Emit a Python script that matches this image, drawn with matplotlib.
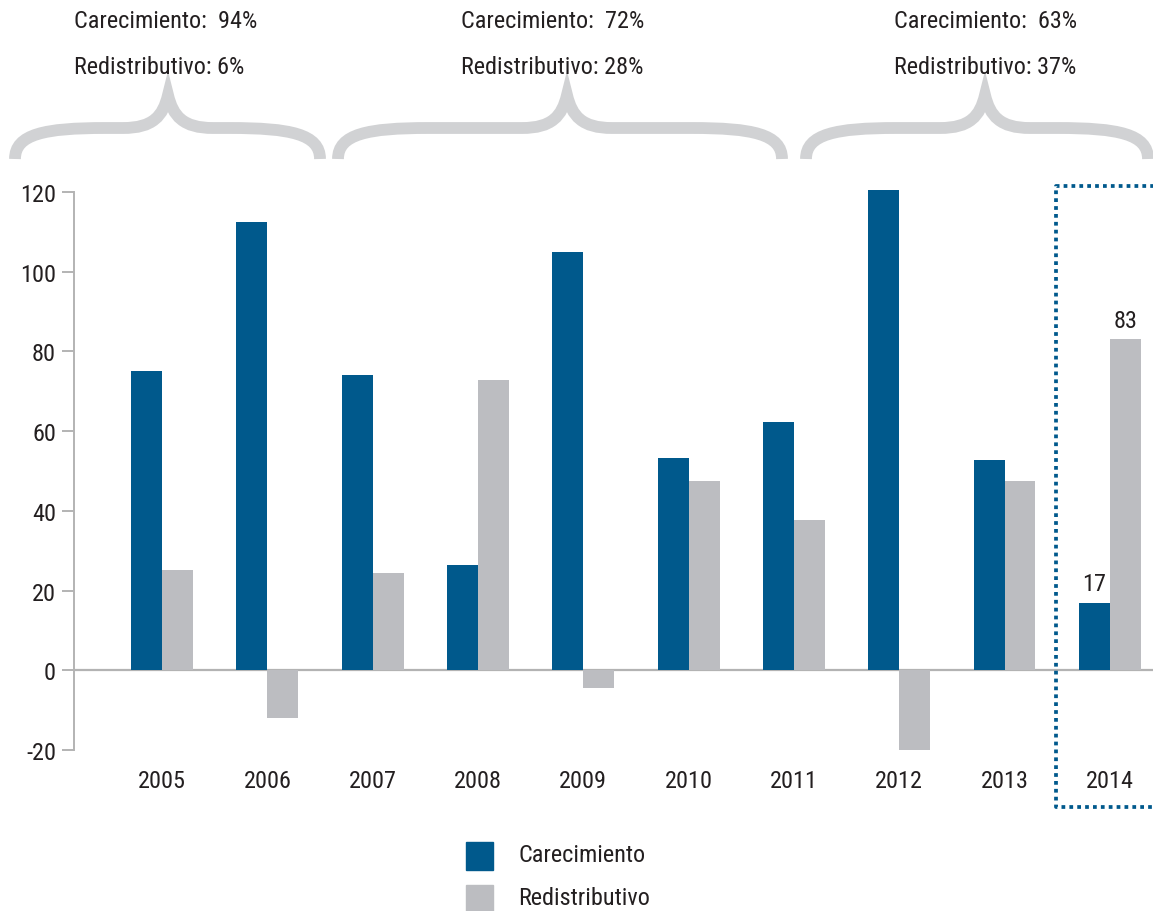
import matplotlib
matplotlib.use("Agg")
from matplotlib import pyplot as plt  # noqa
from matplotlib import font_manager
from matplotlib.path import Path
from matplotlib.patches import PathPatch, Rectangle
import numpy as np

years = ['2005', '2006', '2007', '2008', '2009', '2010', '2011', '2012', '2013', '2014']
carecimiento = [75, 112.5, 74, 26.5, 105, 53.3, 62.3, 120.5, 52.8, 17]
redistributivo = [25.2, -12, 24.5, 72.8, -4.5, 47.5, 37.7, -20, 47.5, 83]
series_names = ['Carecimiento', 'Redistributivo']
periods = [('94%', '6%'), ('72%', '28%'), ('63%', '37%')]
yticks = [-20, 0, 20, 40, 60, 80, 100, 120]

BLUE = '#00598c'
GREY = '#bcbdc1'
LINE = '#b3b3b3'
BRACE = '#d1d2d4'
TXT = '#231f20'

installed = {f.name for f in font_manager.fontManager.ttflist}
fams = [f for f in ['Roboto Condensed', 'Liberation Sans Narrow', 'Open Sans Condensed', 'Roboto']
        if f in installed]
plt.rcParams['font.family'] = fams + ['DejaVu Sans']
plt.rcParams['font.stretch'] = 'condensed'

W, H = 1153, 912
fig = plt.figure(figsize=(W / 100, H / 100), dpi=100)

# main chart axes, placed in pixel terms
ax = fig.add_axes([74 / W, 1 - 751 / H, 1 - 74 / W, (751 - 193) / H])
x = np.arange(len(years))
w = 0.294
ax.bar(x - w / 2, carecimiento, w, color=BLUE, zorder=2, clip_on=False)
ax.bar(x + w / 2, redistributivo, w, color=GREY, zorder=2, clip_on=False)
ax.axhline(0, color=LINE, lw=1.6, zorder=1)
ax.set_xlim(-0.836, 9.41)
ax.set_ylim(-20, 120)
ax.set_yticks(yticks)
ax.set_yticklabels([str(t) for t in yticks], fontsize=17.5, color=TXT)
ax.tick_params(axis='y', length=9, width=1.4, color=LINE, pad=4)
ax.tick_params(axis='x', length=0, pad=14)
ax.set_xticks(x)
ax.set_xticklabels(years, fontsize=17.5, color=TXT)
for s in ['top', 'right', 'bottom']:
    ax.spines[s].set_visible(False)
ax.spines['left'].set_color(LINE)
ax.spines['left'].set_linewidth(1.4)

# value labels on the last year
ax.text(x[-1] - w / 2, carecimiento[-1] + 2, str(int(carecimiento[-1])), ha='center', va='bottom',
        fontsize=17.5, color=TXT)
ax.text(x[-1] + w / 2, redistributivo[-1] + 2, str(int(redistributivo[-1])), ha='center', va='bottom',
        fontsize=17.5, color=TXT)

# overlay in pixel coords for braces, box, legend
ov = fig.add_axes([0, 0, 1, 1], facecolor='none')
ov.set_xlim(0, W)
ov.set_ylim(H, 0)
ov.axis('off')


def brace(x0, xp, x1, yb=160, yh=129, yp=96):
    verts = [(x0, yb), (x0, yh + 6), (x0 + 30, yh), (x0 + 90, yh),
             (xp - 45, yh),
             (xp - 15, yh), (xp - 5, yh - 12), (xp, yp),
             (xp + 5, yh - 12), (xp + 15, yh), (xp + 45, yh),
             (x1 - 90, yh),
             (x1 - 30, yh), (x1, yh + 6), (x1, yb)]
    codes = [Path.MOVETO, Path.CURVE4, Path.CURVE4, Path.CURVE4,
             Path.LINETO,
             Path.CURVE4, Path.CURVE4, Path.CURVE4,
             Path.CURVE4, Path.CURVE4, Path.CURVE4,
             Path.LINETO,
             Path.CURVE4, Path.CURVE4, Path.CURVE4]
    ov.add_patch(PathPatch(Path(verts, codes), fill=False, edgecolor=BRACE, lw=8.5, capstyle='butt',
                           joinstyle='miter'))


brace(15, 168, 320)
brace(338, 567, 782)
brace(806, 985, 1148)

text_x = [74, 461, 894]
for tx, (a, b) in zip(text_x, periods):
    ov.text(tx, 22, series_names[0] + ':  ' + a, fontsize=17.5, color=TXT, va='center', ha='left')
    ov.text(tx, 67, series_names[1] + ': ' + b, fontsize=17.5, color=TXT, va='center', ha='left')

# dotted box around 2014
ov.plot([W + 5, 1056, 1056, W + 5], [187, 187, 808, 808], color=BLUE, lw=2.7,
        linestyle=(0, (1, 1.1)), solid_capstyle='butt', dash_capstyle='butt', clip_on=False)

# legend
for i, (name, col) in enumerate(zip(series_names, [BLUE, GREY])):
    y0 = 843 + i * 43
    ov.add_patch(Rectangle((466, y0), 27, 28, color=col))
    ov.text(518, y0 + 13, name, fontsize=17.5, color=TXT, va='center', ha='left')

fig.savefig('out.png', dpi=100)
